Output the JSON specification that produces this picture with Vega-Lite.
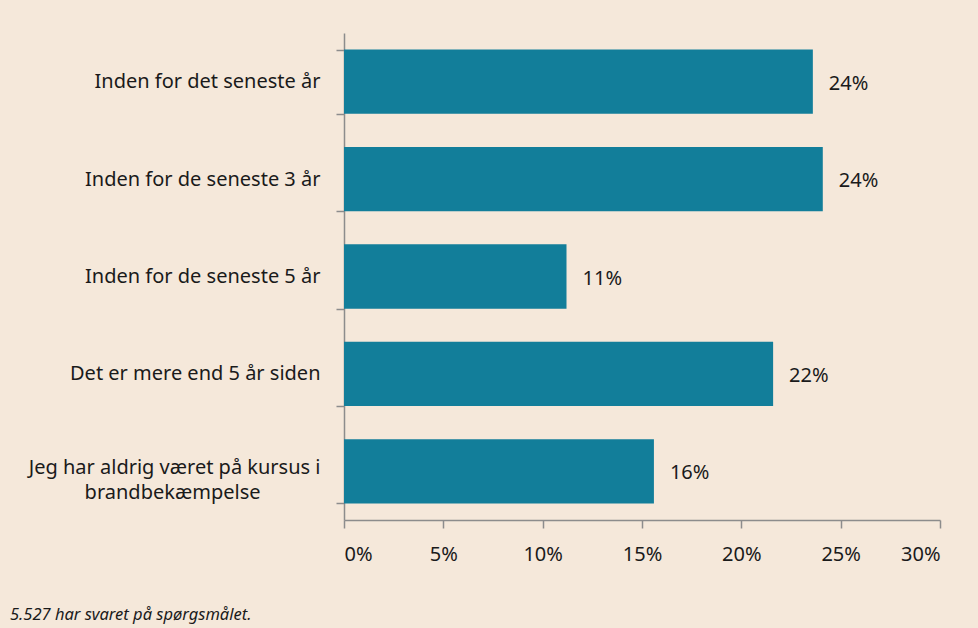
{
  "$schema": "https://vega.github.io/schema/vega-lite/v6.json",
  "width": 596,
  "height": 487,
  "autosize": {"type": "none"},
  "padding": {"left": 344, "top": 33, "right": 38, "bottom": 108},
  "background": "#f5e8da",
  "title": {
    "text": "5.527 har svaret på spørgsmålet.",
    "orient": "bottom",
    "anchor": "start",
    "frame": "group",
    "dx": -334,
    "offset": 43,
    "font": "Noto Sans",
    "fontSize": 16.5,
    "fontStyle": "italic",
    "fontWeight": "normal",
    "color": "#1a1a1a"
  },
  "data": {
    "values": [
      {"kategori": "Inden for det seneste år", "andel": 0.236, "label": "24%"},
      {"kategori": "Inden for de seneste 3 år", "andel": 0.241, "label": "24%"},
      {"kategori": "Inden for de seneste 5 år", "andel": 0.112, "label": "11%"},
      {"kategori": "Det er mere end 5 år siden", "andel": 0.216, "label": "22%"},
      {"kategori": "Jeg har aldrig været på kursus i|brandbekæmpelse\u2800\u2800\u2800\u2800", "andel": 0.156, "label": "16%"}
    ]
  },
  "encoding": {
    "y": {
      "field": "kategori",
      "type": "nominal",
      "sort": null,
      "scale": {"paddingInner": 0.34, "paddingOuter": 0.17},
      "axis": {
        "title": null,
        "labelExpr": "split(datum.label, '|')",
        "labelFont": "Noto Sans",
        "labelFontSize": 20,
        "labelColor": "#1a1a1a",
        "labelPadding": 16,
        "labelAlign": "right",
        "labelLimit": 400,
        "labelLineHeight": 25,
        "labelOffset": {"condition": {"test": "indexof(datum.label, '|') >= 0", "value": -4}, "value": 0},
        "tickBand": "extent",
        "tickSize": 8,
        "tickColor": "#8c8c8c",
        "tickWidth": 1.5,
        "domainColor": "#8c8c8c",
        "domainWidth": 1.5,
        "grid": false
      }
    },
    "x": {
      "field": "andel",
      "type": "quantitative",
      "scale": {"domain": [0, 0.3], "nice": false},
      "axis": {
        "title": null,
        "format": ".0%",
        "values": [0, 0.05, 0.1, 0.15, 0.2, 0.25, 0.3],
        "labelFont": "Noto Sans",
        "labelFontSize": 20,
        "labelColor": "#1a1a1a",
        "labelPadding": 16,
        "tickSize": 8,
        "tickColor": "#8c8c8c",
        "tickWidth": 1.5,
        "domainColor": "#8c8c8c",
        "domainWidth": 1.5,
        "grid": false
      }
    }
  },
  "layer": [
    {"mark": {"type": "bar", "color": "#127e9a"}},
    {
      "mark": {"type": "text", "align": "left", "baseline": "middle", "dx": 16, "dy": 2, "font": "Noto Sans", "fontSize": 20, "color": "#1a1a1a"},
      "encoding": {"text": {"field": "label"}}
    }
  ],
  "config": {"view": {"stroke": null}}
}
